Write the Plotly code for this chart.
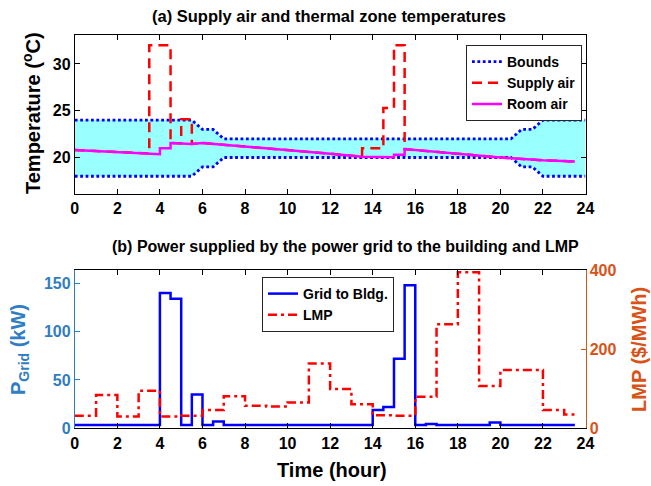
import plotly.graph_objects as go

# ---------------- data ----------------
# (a) temperatures
bound_t = [0, 5.5, 6, 6.5, 7, 20.5, 21, 21.5, 22, 24]
bound_upper = [24, 24, 23, 23, 22, 22, 23, 23, 24, 24]
bound_lower = [18, 18, 19, 19, 20, 20, 19, 19, 18, 18]

room_t = [0, 3.5, 4.0, 4.0, 4.5, 4.5, 5.0, 5.5, 6.0, 8, 10, 12, 13.5, 14.5, 15.0, 15.0, 15.5, 15.5, 18, 20, 22, 23.5]
room_v = [20.8, 20.42, 20.36, 21.0, 21.0, 21.55, 21.5, 21.45, 21.55, 21.18, 20.75, 20.4, 20.08, 20.05, 20.03, 20.3, 20.3, 20.9, 20.4, 20.0, 19.7, 19.57]

supply_t = [0, 3.5, 3.5, 4.5, 4.5, 5.0, 5.0, 5.5, 5.5, 6.0, 8, 10, 12, 13.5, 13.5, 14.5, 14.5, 15.0, 15.0, 15.5, 15.5, 18, 20, 22, 23.5]
supply_v = [20.8, 20.42, 32.0, 32.0, 21.55, 21.5, 24.1, 24.1, 21.45, 21.55, 21.18, 20.75, 20.4, 20.08, 21.0, 21.0, 25.3, 25.3, 32.0, 32.0, 20.9, 20.4, 20.0, 19.7, 19.57]

# (b) power from grid (half-hourly) and LMP (hourly)
grid_t = [i * 0.5 for i in range(48)]
grid_kw = ([3.5] * 8 + [140, 134, 3.5, 35, 3.5, 7] + [3.5] * 14 +
           [19, 22, 72, 148, 3.5, 4.5] + [3.5] * 5 + [6] + [3.5] * 8)

lmp_hours = list(range(24))
lmp_vals = [32, 84, 30, 95, 30, 32, 46, 81, 57, 55, 65, 164, 99, 61, 33, 32,
            80, 263, 394, 107, 147, 147, 46, 35]
lmp_t = lmp_hours + [23.5]
lmp_v = lmp_vals + [lmp_vals[-1]]

x_ticks = list(range(0, 25, 2))

# ---------------- styling ----------------
W, H = 651, 486
FONT = "Liberation Sans"
BLUE_AX = "#2F7DC2"
ORANGE = "#D95319"


def px_x(p):
    return p / W


def px_y(p):
    return 1 - p / H


xdom = [px_x(74.8), px_x(585.5)]
ydom_a = [px_y(194), px_y(35)]
ydom_b = [px_y(428.3), px_y(270)]

fig = go.Figure()

# cyan comfort band
fig.add_trace(go.Scatter(x=bound_t, y=bound_lower, mode="lines", line=dict(width=0, color="rgba(0,0,0,0)"),
                         showlegend=False, hoverinfo="skip", xaxis="x", yaxis="y"))
fig.add_trace(go.Scatter(x=bound_t, y=bound_upper, mode="lines", line=dict(width=0, color="rgba(0,0,0,0)"),
                         fill="tonexty", fillcolor="rgb(153,255,255)",
                         showlegend=False, hoverinfo="skip", xaxis="x", yaxis="y"))
# bounds lines
dot = dict(color="#0000FF", width=2.8, dash="2.8px,2.6px")
fig.add_trace(go.Scatter(x=bound_t, y=bound_upper, mode="lines", line=dot, name="Bounds",
                         legend="legend", xaxis="x", yaxis="y"))
fig.add_trace(go.Scatter(x=bound_t, y=bound_lower, mode="lines", line=dot, name="Bounds",
                         showlegend=False, legend="legend", xaxis="x", yaxis="y"))
fig.add_trace(go.Scatter(x=supply_t, y=supply_v, mode="lines",
                         line=dict(color="#FF0000", width=2.5, dash="10px,6px"),
                         name="Supply air", legend="legend", xaxis="x", yaxis="y"))
fig.add_trace(go.Scatter(x=room_t, y=room_v, mode="lines",
                         line=dict(color="#FF00FF", width=2.5),
                         name="Room air", legend="legend", xaxis="x", yaxis="y"))

# bottom panel
fig.add_trace(go.Scatter(x=grid_t, y=grid_kw, mode="lines", line_shape="hv",
                         line=dict(color="#0000FF", width=2.5),
                         name="Grid to Bldg.", legend="legend2", xaxis="x2", yaxis="y2"))
fig.add_trace(go.Scatter(x=lmp_t, y=lmp_v, mode="lines", line_shape="hv",
                         line=dict(color="#FF0000", width=2.5, dash="9px,4px,3px,4px"),
                         name="LMP", legend="legend2", xaxis="x2", yaxis="y3"))

tickfont = dict(family=FONT, size=16, color="black", weight="bold")
common_x = dict(range=[0, 24], tickvals=x_ticks, ticks="inside", ticklen=5, showline=True,
                linecolor="black", linewidth=1, mirror="ticks", showgrid=False, zeroline=False,
                tickfont=tickfont, tickcolor="black", domain=xdom, automargin=False)

legend_common = dict(xanchor="left", yanchor="top", bgcolor="white", bordercolor="#262626",
                     borderwidth=1, traceorder="normal", tracegroupgap=0,
                     font=dict(family=FONT, size=14, color="black", weight="bold"))

fig.update_layout(
    width=W, height=H,
    margin=dict(l=0, r=0, t=0, b=0, autoexpand=False),
    paper_bgcolor="white", plot_bgcolor="white",
    font=dict(family=FONT, color="black"),
    xaxis=dict(anchor="y", **common_x),
    yaxis=dict(anchor="x", domain=ydom_a, range=[16.1, 33.1], tickvals=[20, 25, 30],
               ticks="inside", ticklen=5, showline=True, linecolor="black", linewidth=1,
               mirror="ticks", showgrid=False, zeroline=False, tickfont=tickfont, tickcolor="black",
               automargin=False),
    xaxis2=dict(anchor="y2", **common_x),
    yaxis2=dict(anchor="x2", domain=ydom_b, range=[0, 163.8], tickvals=[0, 50, 100, 150],
                ticks="inside", ticklen=5, showline=True, linecolor=BLUE_AX, linewidth=1,
                showgrid=False, zeroline=False, tickcolor=BLUE_AX, automargin=False,
                tickfont=dict(family=FONT, size=16, color=BLUE_AX, weight="bold")),
    yaxis3=dict(anchor="x2", overlaying="y2", side="right", range=[0, 400], tickvals=[0, 200, 400],
                ticks="inside", ticklen=5, showline=True, linecolor=ORANGE, linewidth=1,
                showgrid=False, zeroline=False, tickcolor=ORANGE, automargin=False,
                tickfont=dict(family=FONT, size=16, color=ORANGE, weight="bold")),
    legend=dict(x=px_x(466), y=px_y(45), **legend_common),
    legend2=dict(x=px_x(262), y=px_y(277), **legend_common),
)

ann_font = dict(family=FONT, color="black", weight="bold")
annotations = [
    dict(text="(a) Supply air and thermal zone temperatures", x=px_x(329), y=px_y(16),
         font=dict(size=16.5, **ann_font)),
    dict(text="(b) Power supplied by the power grid to the building and LMP", x=px_x(346), y=px_y(247),
         font=dict(size=16, **ann_font)),
    dict(text="Temperature (<sup>o</sup>C)", x=px_x(31), y=px_y(113), textangle=-90,
         font=dict(size=20, **ann_font)),
    dict(text="P<sub>Grid</sub> (kW)", x=px_x(19), y=px_y(350), textangle=-90,
         font=dict(family=FONT, size=20, color=BLUE_AX, weight="bold")),
    dict(text="LMP ($/MWh)", x=px_x(639), y=px_y(350), textangle=-90,
         font=dict(family=FONT, size=20, color=ORANGE, weight="bold")),
    dict(text="Time (hour)", x=px_x(332), y=px_y(470),
         font=dict(size=20, **ann_font)),
]
for a in annotations:
    a.update(xref="paper", yref="paper", showarrow=False, xanchor="center", yanchor="middle")
fig.update_layout(annotations=annotations)

fig.write_html("out.html", post_script="document.body.style.margin='0';",
               config={"displayModeBar": False})
